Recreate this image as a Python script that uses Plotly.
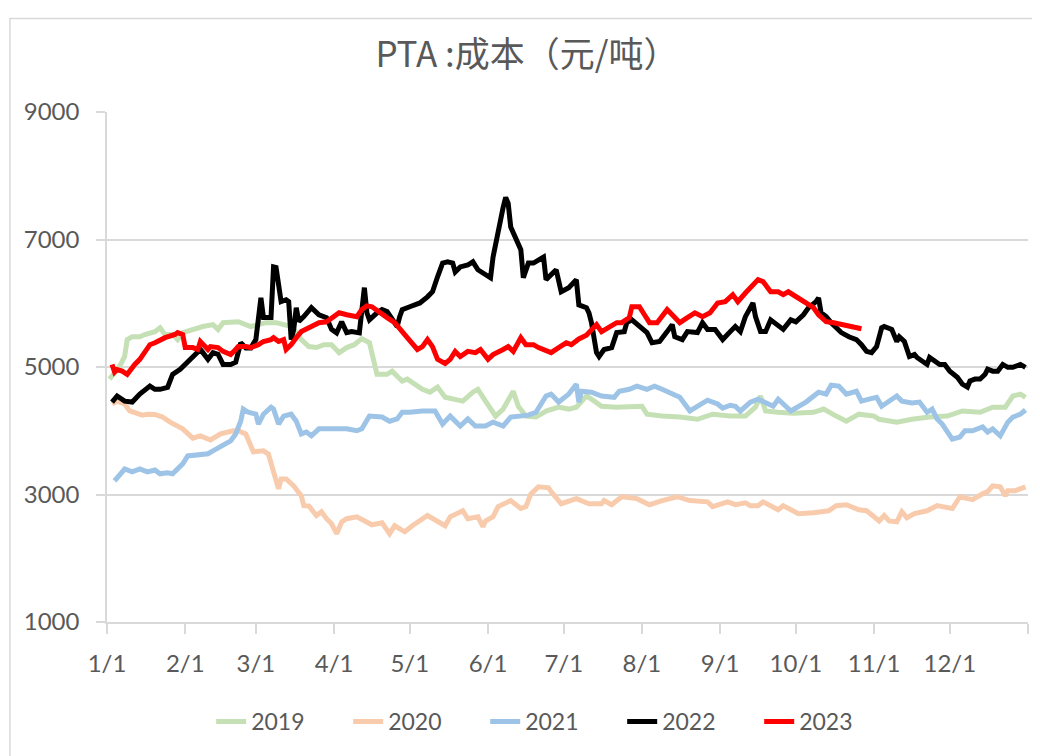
import plotly.graph_objects as go

# ---------------- data (month-day, value) ----------------
d2019 = ["01-02","01-04","01-06","01-08","01-09","01-11","01-14","01-16","01-18","01-20","01-22","01-24","01-27","01-29","01-31",
         "02-04","02-08","02-12","02-14","02-16","02-20","02-22","02-25","02-27","03-02","03-05","03-09","03-12","03-15","03-17",
         "03-19","03-22","03-25","03-28","03-31","04-03","04-06","04-09","04-12","04-15","04-17","04-18","04-22","04-24","04-26",
         "04-28","04-30","05-03","05-06","05-09","05-12","05-15","05-18","05-22","05-26","05-28","05-31","06-04","06-07","06-11",
         "06-13","06-16","06-20","06-24","06-29","07-03","07-06","07-10","07-12","07-16","07-22","07-27","08-01","08-03","08-09",
         "08-16","08-23","08-29","09-05","09-11","09-15","09-17","09-19","09-24","09-30","10-08","10-12","10-17","10-21","10-26",
         "11-01","11-03","11-10","11-16","11-23","11-30","12-06","12-13","12-18","12-23","12-26","12-29","12-31"]
v2019 = [4810,4920,5010,5165,5430,5475,5475,5510,5540,5555,5615,5510,5510,5430,5540,
         5590,5635,5665,5590,5695,5710,5710,5665,5635,5665,5695,5695,5665,5635,5540,
         5430,5320,5305,5350,5350,5225,5305,5350,5445,5380,5040,4885,4885,4935,4855,
         4780,4810,4730,4650,4605,4685,4525,4495,4465,4605,4650,4465,4230,4340,4620,
         4385,4230,4215,4310,4370,4340,4370,4545,4495,4385,4370,4370,4385,4260,4230,
         4215,4180,4260,4230,4230,4370,4545,4310,4290,4275,4290,4340,4230,4150,4260,
         4230,4180,4135,4180,4215,4230,4310,4290,4370,4370,4545,4575,4525]

d2020 = ["01-03","01-05","01-08","01-10","01-15","01-17","01-20","01-23","01-26","01-31","02-04","02-07","02-11","02-15","02-20",
         "02-22","02-25","02-28","03-04","03-06","03-08","03-10","03-11","03-13","03-16","03-19","03-20","03-22","03-25","03-27",
         "03-29","03-31","04-02","04-04","04-06","04-10","04-16","04-20","04-23","04-25","04-29","05-02","05-08","05-12","05-15",
         "05-17","05-22","05-24","05-28","05-30","05-31","06-03","06-05","06-10","06-14","06-16","06-18","06-21","06-25","06-26",
         "06-30","07-06","07-11","07-16","07-17","07-20","07-24","07-30","08-04","08-09","08-15","08-20","08-27","08-29","09-04",
         "09-07","09-11","09-13","09-16","09-18","09-21","09-24","09-26","09-30","10-02","10-08","10-14","10-17","10-21","10-26",
         "10-29","11-01","11-03","11-05","11-07","11-10","11-12","11-14","11-17","11-22","11-26","11-28","12-02","12-05","12-10",
         "12-14","12-16","12-18","12-21","12-23","12-24","12-27","12-29","12-31"]
v2020 = [4420,4465,4420,4310,4245,4260,4255,4215,4135,4030,3885,3920,3855,3950,4000,
         4000,3950,3670,3685,3635,3355,3090,3245,3245,3135,2980,2825,2820,2670,2730,
         2620,2540,2385,2570,2620,2650,2525,2555,2385,2510,2415,2510,2670,2585,2510,
         2650,2745,2620,2650,2495,2585,2650,2810,2905,2780,2810,3010,3120,3105,3045,
         2855,2935,2855,2855,2905,2840,2965,2935,2840,2905,2965,2905,2885,2810,2885,
         2840,2870,2825,2825,2885,2825,2760,2825,2745,2700,2715,2745,2825,2840,2760,
         2745,2650,2585,2670,2585,2570,2730,2635,2700,2745,2825,2810,2780,2965,2920,
         3010,3045,3135,3120,2980,3060,3060,3090,3120]

d2021 = ["01-04","01-06","01-08","01-11","01-14","01-17","01-20","01-22","01-25","01-27","01-28","01-31","02-02","02-05","02-08",
         "02-10","02-12","02-15","02-18","02-19","02-21","02-23","02-24","02-26","03-01","03-02","03-04","03-07","03-08","03-10",
         "03-12","03-15","03-17","03-19","03-21","03-23","03-26","03-31","04-06","04-10","04-12","04-15","04-20","04-23","04-26",
         "04-28","05-01","05-06","05-11","05-14","05-17","05-21","05-24","05-27","05-31","06-03","06-07","06-10","06-13","06-17",
         "06-20","06-24","06-26","06-29","07-03","07-06","07-07","07-08","07-12","07-16","07-21","07-23","07-27","07-30","08-03",
         "08-06","08-09","08-13","08-16","08-20","08-24","08-27","08-31","09-02","09-05","09-07","09-09","09-13","09-16","09-19",
         "09-22","09-24","09-29","10-05","10-10","10-13","10-15","10-18","10-21","10-25","10-27","10-30","11-02","11-04","11-07",
         "11-10","11-12","11-16","11-19","11-22","11-24","11-26","11-28","11-30","12-02","12-05","12-07","12-10","12-14","12-16",
         "12-18","12-21","12-24","12-26","12-29","12-31"]
v2021 = [3215,3295,3400,3355,3400,3355,3385,3325,3340,3325,3370,3480,3605,3620,3635,
         3640,3685,3760,3825,3840,3950,4150,4340,4290,4260,4105,4260,4370,4340,4105,
         4230,4260,4150,3950,3980,3920,4030,4030,4030,4000,4030,4230,4215,4150,4185,
         4290,4290,4310,4310,4105,4230,4075,4185,4075,4075,4135,4075,4215,4230,4245,
         4290,4545,4575,4450,4575,4730,4450,4620,4605,4545,4525,4620,4650,4700,4650,
         4700,4650,4575,4525,4310,4420,4480,4420,4355,4400,4385,4310,4450,4495,4450,
         4385,4495,4310,4450,4605,4575,4715,4700,4575,4620,4465,4495,4525,4385,4465,
         4545,4465,4435,4450,4290,4340,4185,4105,4000,3870,3900,4000,4000,4060,3980,
         4030,3920,4135,4215,4260,4325]

d2022 = ["01-03","01-05","01-08","01-11","01-14","01-18","01-20","01-22","01-25","01-26","01-27","01-30","02-03","02-07","02-08",
         "02-10","02-12","02-14","02-16","02-19","02-21","02-23","02-25","02-27","03-01","03-03","03-04","03-07","03-08","03-09",
         "03-11","03-13","03-14","03-15","03-16","03-17","03-18","03-20","03-23","03-26","03-29","03-31","04-02","04-04","04-06",
         "04-08","04-11","04-12","04-13","04-14","04-15","04-18","04-20","04-22","04-24","04-26","04-27","04-28","05-01","05-05",
         "05-08","05-10","05-12","05-14","05-16","05-18","05-19","05-21","05-24","05-26","05-28","05-30","06-02","06-03","06-05",
         "06-07","06-08","06-09","06-10","06-12","06-14","06-15","06-17","06-19","06-21","06-23","06-24","06-26","06-28","06-30",
         "07-03","07-06","07-07","07-10","07-11","07-12","07-14","07-15","07-17","07-20","07-21","07-22","07-25","07-26","07-28",
         "07-30","08-03","08-05","08-08","08-11","08-13","08-14","08-17","08-19","08-21","08-23","08-25","08-27","08-30","09-02",
         "09-05","09-07","09-09","09-11","09-14","09-15","09-17","09-19","09-21","09-24","09-26","09-29","10-01","10-04","10-06",
         "10-09","10-10","10-11","10-13","10-15","10-17","10-19","10-22","10-25","10-27","10-29","10-31","11-02","11-04","11-05",
         "11-08","11-10","11-11","11-13","11-15","11-17","11-18","11-20","11-22","11-23","11-25","11-27","11-29","12-01","12-04",
         "12-06","12-08","12-09","12-11","12-13","12-15","12-16","12-18","12-20","12-22","12-24","12-26","12-29","12-31"]
v2022 = [4450,4545,4465,4450,4575,4700,4650,4650,4680,4810,4885,4965,5120,5275,5225,
         5120,5225,5200,5040,5040,5075,5380,5300,5300,5430,6085,5775,5775,6570,6560,
         6025,6055,6025,5430,5590,5930,5715,5790,5930,5820,5775,5590,5535,5710,5540,
         5555,5535,5850,6245,5850,5740,5850,5900,5870,5740,5635,5790,5900,5945,6005,
         6100,6180,6415,6630,6650,6630,6490,6570,6600,6650,6525,6475,6400,6725,7150,
         7505,7660,7565,7195,6995,6840,6400,6630,6630,6680,6725,6370,6445,6525,6180,
         6245,6370,5975,5930,5850,5695,5225,5165,5275,5305,5430,5540,5555,5695,5740,
         5665,5540,5380,5400,5555,5665,5475,5430,5555,5555,5540,5695,5590,5590,5430,
         5555,5635,5555,5790,6005,5790,5555,5555,5740,5635,5590,5740,5710,5820,5930,
         6025,6085,5850,5790,5695,5615,5540,5475,5430,5350,5245,5225,5320,5615,5635,
         5590,5400,5475,5400,5165,5195,5150,5090,5040,5150,5090,5040,5040,4935,4840,
         4730,4685,4780,4810,4810,4885,4965,4935,4935,5040,4995,4995,5040,4995]

d2023 = ["01-03","01-04","01-05","01-07","01-09","01-11","01-12","01-14","01-16","01-18","01-20","01-24","01-28","01-29","01-31",
         "02-01","02-04","02-06","02-07","02-10","02-11","02-14","02-16","02-19","02-21","02-22","02-25","02-27","03-02","03-04",
         "03-07","03-08","03-10","03-12","03-13","03-15","03-17","03-19","03-23","03-26","03-29","03-31","04-03","04-06","04-10",
         "04-12","04-14","04-16","04-19","04-22","04-25","04-27","04-30","05-04","05-06","05-08","05-10","05-12","05-15","05-17",
         "05-19","05-21","05-24","05-27","05-29","06-01","06-03","06-07","06-09","06-11","06-14","06-16","06-19","06-21","06-24",
         "06-26","06-29","07-02","07-04","07-07","07-10","07-14","07-16","07-19","07-22","07-24","07-27","07-28","07-31","08-02",
         "08-04","08-07","08-11","08-13","08-16","08-19","08-22","08-25","08-28","08-31","09-03","09-06","09-08","09-11","09-14",
         "09-16","09-18","09-21","09-24","09-26","09-28","10-01","10-05","10-08","10-10","10-13","10-16","10-19","10-22","10-25",
         "10-27"]
v2023 = [5040,4920,4960,4935,4885,4995,5040,5120,5225,5350,5380,5460,5510,5540,5510,
         5305,5305,5275,5400,5275,5320,5305,5245,5195,5275,5320,5320,5305,5350,5400,
         5430,5460,5400,5430,5275,5350,5460,5555,5635,5695,5710,5775,5850,5820,5790,
         5900,5960,5945,5850,5775,5695,5590,5460,5275,5320,5430,5320,5120,5055,5120,
         5245,5165,5245,5225,5275,5120,5195,5275,5320,5245,5460,5350,5350,5305,5245,
         5225,5305,5380,5350,5440,5500,5665,5555,5635,5695,5695,5775,5945,5945,5820,
         5695,5695,5900,5820,5695,5775,5850,5790,5850,6005,6025,6135,6025,6160,6290,
         6370,6340,6180,6180,6135,6180,6100,6005,5930,5820,5710,5695,5665,5635,5615,
         5600]

series = [("2019", d2019, v2019, "#C5E0B4"),
          ("2020", d2020, v2020, "#F8CBAD"),
          ("2021", d2021, v2021, "#9DC3E6"),
          ("2022", d2022, v2022, "#000000"),
          ("2023", d2023, v2023, "#FF0000")]

month_ticks = ["2023-%02d-01" % m for m in range(1, 13)] + ["2024-01-01"]
month_labels = ["%d/1" % m for m in range(1, 13)] + [""]
y_ticks = [1000, 3000, 5000, 7000, 9000]

GRID = "#D9D9D9"
TXT = "#595959"

fig = go.Figure()
for name, d, v, c in series:
    fig.add_trace(go.Scatter(
        x=["2023-" + s for s in d], y=v, name=name, mode="lines",
        line=dict(color=c, width=5),
    ))

# the page body has an 8px default margin, so margins compensate for it
fig.update_layout(
    width=1040, height=756,
    paper_bgcolor="white", plot_bgcolor="white",
    margin=dict(l=99, r=20, t=104, b=142),
    title=dict(text="PTA :成本（元/吨）", x=0.456, xref="paper", xanchor="center",
               y=1 - 47 / 756, yanchor="middle",
               font=dict(family="Noto Sans CJK SC", size=35, color=TXT)),
    showlegend=True,
    legend=dict(orientation="h", x=0.485, xanchor="center", y=-0.195, yanchor="middle",
                font=dict(family="Lato", size=23, color=TXT),
                entrywidth=92, entrywidthmode="pixels", bgcolor="rgba(0,0,0,0)"),
    font=dict(family="Lato", color=TXT),
    shapes=[dict(type="rect", xref="paper", yref="paper",
                 x0=-0.1054, x1=1.03, y0=-0.27, y1=1.1835,
                 line=dict(color=GRID, width=1.5), layer="below")],
)

fig.update_xaxes(
    type="date", range=["2023-01-01", "2024-01-01"],
    tickmode="array", tickvals=month_ticks, ticktext=month_labels,
    showgrid=False, showline=True, linecolor=GRID, linewidth=1.5,
    ticks="outside", ticklen=10, tickcolor=GRID, tickwidth=1.5,
    ticklabelstandoff=9,
    tickfont=dict(family="Lato", size=24, color=TXT),
    zeroline=False,
)
fig.update_yaxes(
    range=[1000, 9000], tickmode="array", tickvals=y_ticks,
    showgrid=True, gridcolor=GRID, gridwidth=1.5,
    showline=True, linecolor=GRID, linewidth=1.5,
    ticks="outside", ticklen=9, tickcolor=GRID, tickwidth=1.5,
    ticklabelstandoff=12,
    tickfont=dict(family="Lato", size=24, color=TXT),
    zeroline=False,
)

fig.write_html("out.html")
